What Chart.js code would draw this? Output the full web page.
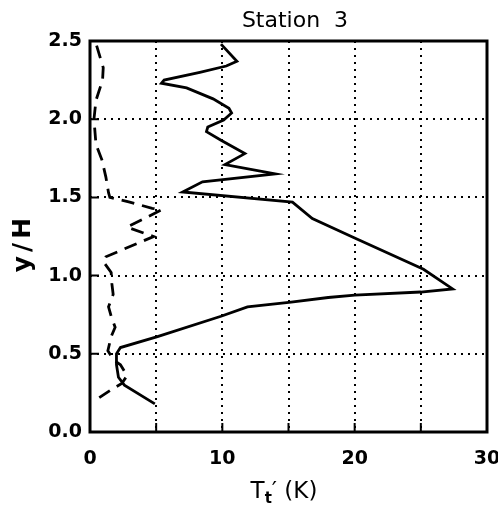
<!DOCTYPE html>
<html>
<head>
<meta charset="utf-8">
<script src="https://cdn.jsdelivr.net/npm/chart.js@4"></script>
<style>
  html, body { margin: 0; padding: 0; background: #fff; }
  #wrap { width: 498px; height: 509px; }
</style>
</head>
<body>
<div id="wrap"><canvas id="myChart" width="498" height="509"></canvas></div>
<script>
// Station 3 profiles (T' in K, y/H)
const solidT = [4.9, 2.6, 2.15, 2.0, 2.0, 2.3, 5.1, 9.9, 11.9, 15.2, 18.0, 20.0, 25.0, 27.4,
  25.2, 20.0, 16.8, 15.3, 7.0, 8.5, 14.0, 10.2, 11.7, 9.9, 8.8, 8.9, 10.1, 10.7, 10.5,
  9.3, 7.3, 5.4, 5.6, 8.3, 10.3, 11.1, 9.9];
const solidY = [0.18, 0.30, 0.35, 0.43, 0.50, 0.54, 0.61, 0.74, 0.80, 0.83, 0.86, 0.875, 0.895, 0.915,
  1.04, 1.24, 1.365, 1.47, 1.535, 1.60, 1.65, 1.71, 1.78, 1.865, 1.92, 1.95, 1.995, 2.04, 2.07,
  2.13, 2.20, 2.23, 2.25, 2.30, 2.34, 2.37, 2.48];

const dashT = [0.5, 1.0, 0.95, 0.45, 0.3, 0.45, 0.9, 1.2, 1.4, 1.5, 3.0, 4.7, 5.4, 2.8, 4.8,
  1.2, 1.0, 1.6, 1.65, 1.75, 1.4, 1.6, 1.9, 1.6, 1.35, 1.8, 2.3, 2.8, 2.4, 1.6, 0.7];
const dashY = [2.47, 2.33, 2.25, 2.12, 2.0, 1.84, 1.74, 1.63, 1.53, 1.50, 1.47, 1.43, 1.42, 1.31, 1.25,
  1.12, 1.09, 1.02, 0.95, 0.88, 0.80, 0.74, 0.67, 0.61, 0.52, 0.46, 0.43, 0.36, 0.31, 0.27, 0.22];

const xLabels = [0, 10, 20, 30];
const yLabels = [0, 0.5, 1.0, 1.5, 2.0, 2.5];

function toPoints(xs, ys) {
  return xs.map((x, i) => ({ x: x, y: ys[i] }));
}

/* frame, inward ticks and the axis titles */
const framePlugin = {
  id: 'frame',
  afterDraw: function (chart) {
    const ctx = chart.ctx;
    const a = chart.chartArea;
    const xs = chart.scales.x;
    const ys = chart.scales.y;
    ctx.save();
    ctx.strokeStyle = '#000';
    ctx.lineWidth = 3;
    ctx.strokeRect(a.left, a.top, a.right - a.left, a.bottom - a.top);

    ctx.lineWidth = 2;
    ctx.beginPath();
    for (let v = 5; v < 30; v += 5) {
      const px = xs.getPixelForValue(v);
      ctx.moveTo(px, a.bottom);
      ctx.lineTo(px, a.bottom - 9);
    }
    for (let v = 0.5; v < 2.5; v += 0.5) {
      const py = ys.getPixelForValue(v);
      ctx.moveTo(a.left, py);
      ctx.lineTo(a.left + 9, py);
    }
    ctx.stroke();

    ctx.fillStyle = '#000';
    ctx.textAlign = 'center';
    ctx.textBaseline = 'middle';
    ctx.font = '500 22px "DejaVu Sans"';
    ctx.fillText('Station  3', 295, 21);

    ctx.save();
    ctx.translate(23, 245);
    ctx.rotate(-Math.PI / 2);
    ctx.font = 'bold 25px "DejaVu Sans"';
    ctx.letterSpacing = '4px';
    ctx.fillText('y/H', 2, 0);
    ctx.restore();

    // T with subscript t, then ' (K)
    ctx.textAlign = 'left';
    ctx.textBaseline = 'alphabetic';
    const big = '23px "DejaVu Sans"';
    const small = 'bold 15px "DejaVu Sans"';
    ctx.font = big;
    const wT = ctx.measureText('T').width;
    const wRest = ctx.measureText('\u2032 (K)').width;
    ctx.font = small;
    const wt = ctx.measureText('t').width;
    const x0 = 284 - (wT + wt + wRest) / 2;
    const base = 498;
    ctx.font = big;
    ctx.fillText('T', x0, base);
    ctx.font = small;
    ctx.fillText('t', x0 + wT, base + 5);
    ctx.font = big;
    ctx.fillText('\u2032 (K)', x0 + wT + wt, base);
    ctx.restore();
  }
};

const ctx = document.getElementById('myChart').getContext('2d');

// eslint-disable-next-line no-undef
const chart = new Chart(ctx, {
  type: 'scatter',
  data: {
    datasets: [{
      label: 'solid',
      data: toPoints(solidT, solidY),
      showLine: true,
      borderColor: '#000',
      borderWidth: 2.8,
      pointRadius: 0,
      tension: 0,
    },
    {
      label: 'dashed',
      data: toPoints(dashT, dashY),
      showLine: true,
      borderColor: '#000',
      borderWidth: 2.8,
      borderDash: [13, 8],
      pointRadius: 0,
      tension: 0,
    }]
  },
  options: {
    responsive: false,
    animation: false,
    layout: { padding: { top: 41, right: 11, left: 0, bottom: 0 } },
    plugins: {
      legend: { display: false },
      tooltip: { enabled: false },
    },
    scales: {
      x: {
        type: 'linear',
        min: 0,
        max: 30,
        afterFit: function (scale) {
          scale.height = 77;
          scale.paddingLeft = 0;
          scale.paddingRight = 0;
        },
        ticks: {
          stepSize: 5,
          color: '#000',
          font: { family: 'DejaVu Sans', size: 19, weight: 'bold' },
          padding: 16,
          maxRotation: 0,
          callback: function (v) { return xLabels.indexOf(v) >= 0 ? String(v) : ''; },
        },
        grid: { color: '#000', lineWidth: 2, drawTicks: false },
        border: { display: false, dash: [2, 5] },
      },
      y: {
        type: 'linear',
        min: 0,
        max: 2.5,
        afterFit: function (scale) {
          scale.width = 90;
          scale.paddingTop = 0;
          scale.paddingBottom = 0;
        },
        ticks: {
          stepSize: 0.5,
          color: '#000',
          font: { family: 'DejaVu Sans', size: 19, weight: 'bold' },
          padding: 8,
          callback: function (v) { return yLabels.indexOf(v) >= 0 ? v.toFixed(1) : ''; },
        },
        grid: { color: '#000', lineWidth: 2, drawTicks: false },
        border: { display: false, dash: [2, 5] },
      }
    }
  },
  plugins: [framePlugin]
});
</script>
</body>
</html>
